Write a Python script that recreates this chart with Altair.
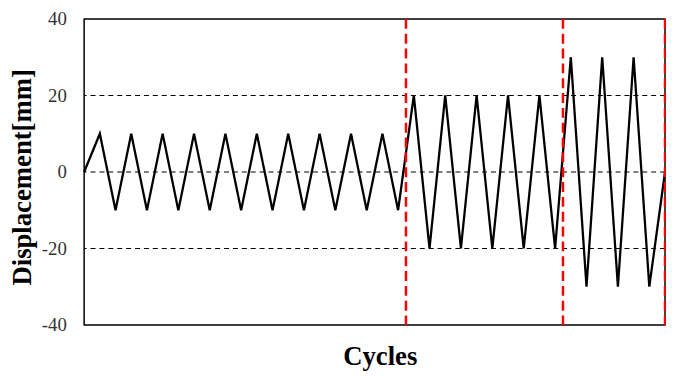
import altair as alt
import pandas as pd

# Displacement history (mm), one value per half-cycle point
displacement = [0, 10, -10, 10, -10, 10, -10, 10, -10, 10, -10,
                10, -10, 10, -10, 10, -10, 10, -10, 10, -10,
                20, -20, 20, -20, 20, -20, 20, -20, 20, -20,
                30, -30, 30, -30, 30, -30, 0]
step = list(range(len(displacement)))

# stage boundaries (red dashed lines), in step units
stage_bounds = [20.5, 30.5, 37]
# dashed reference lines
grid_levels = [-20, 0, 20]
y_ticks = [-40, -20, 0, 20, 40]

x_domain = [0, 37]
y_domain = [-40, 40]

df = pd.DataFrame({"step": step, "disp": displacement})
df_grid = pd.DataFrame({"disp": grid_levels})
df_bounds = pd.DataFrame({"step": stage_bounds})

FONT = "Liberation Serif"

x_axis = alt.Axis(
    labels=False, ticks=False, domain=False, grid=False,
    title="Cycles", titleFont=FONT, titleFontSize=27,
    titleFontWeight="bold", titleColor="black",
    titleX=299, titleY=40, titleAlign="center",
    titleBaseline="alphabetic",
)
y_axis = alt.Axis(
    values=y_ticks, grid=False, domain=False, ticks=False,
    tickSize=0, labelPadding=18, labelFont=FONT,
    labelFontSize=19, labelColor="#333333",
    labelExpr="'' + datum.value",
    title="Displacement[mm]", titleFont=FONT, titleFontSize=27,
    titleFontWeight="bold", titleColor="black", titleAngle=270,
    titleX=-54, titleY=159.7, titleAlign="center",
    titleBaseline="alphabetic",
)
x_scale = alt.Scale(domain=x_domain, nice=False, zero=False)
y_scale = alt.Scale(domain=y_domain, nice=False)

grid = alt.Chart(df_grid).mark_rule(
    color="black", strokeWidth=1.1, strokeDash=[5, 4]
).encode(
    y=alt.Y("disp:Q", scale=y_scale, axis=y_axis, title="Displacement[mm]")
)

line = alt.Chart(df).mark_line(color="black", strokeWidth=2.3).encode(
    x=alt.X("step:Q", scale=x_scale, axis=x_axis, title="Cycles"),
    y=alt.Y("disp:Q", scale=y_scale, axis=y_axis, title="Displacement[mm]"),
)

bounds = alt.Chart(df_bounds).mark_rule(
    color="#FF0000", strokeWidth=2.5, strokeDash=[10, 5]
).encode(
    x=alt.X("step:Q", scale=x_scale, axis=x_axis, title="Cycles")
)

chart = alt.layer(grid, line, bounds).properties(
    width=587.5,
    height=309.5,
    autosize=alt.AutoSizeParams(type="none"),
    padding={"left": 77, "top": 9, "right": 1, "bottom": 47},
).configure_view(stroke="black", strokeWidth=1.5)

chart.save("out.html", embed_options={"renderer": "svg", "actions": False})
